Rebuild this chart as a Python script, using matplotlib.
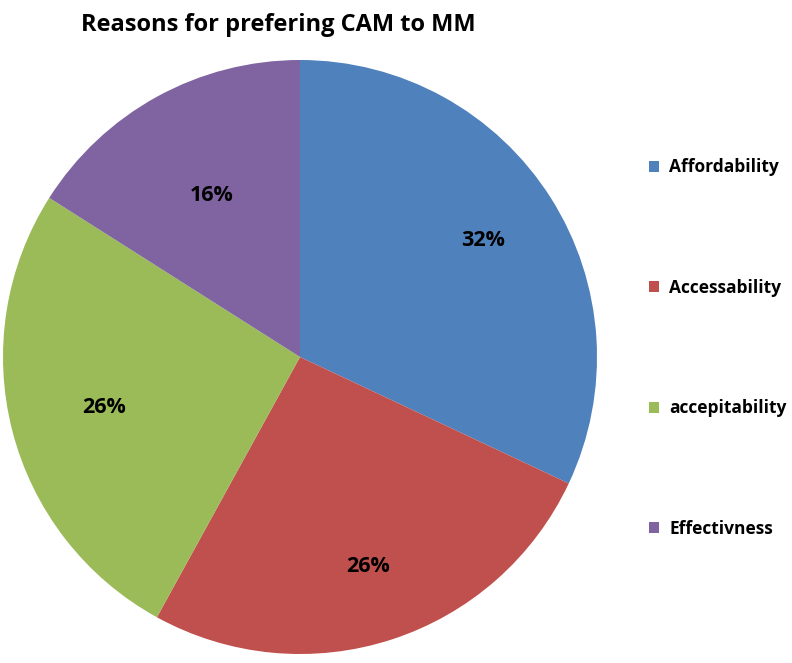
import numpy as np
import matplotlib.pyplot as plt

# data
labels = ["Affordability", "Accessability", "accepitability", "Effectivness"]
shares = [32, 26, 26, 16]
colors = ["#4F81BD", "#C0504D", "#9BBB59", "#8064A2"]
label_dist = [0.73, 0.74, 0.68, 0.62]   # radial position of the % labels

plt.rcParams['font.family'] = ['Open Sans', 'DejaVu Sans']

fig = plt.figure(figsize=(7.92, 6.63), dpi=100)
ax = fig.add_axes([3 / 792, 9 / 663, 594 / 792, 594 / 663])

wedges, texts, autotexts = ax.pie(
    shares, colors=colors, startangle=90, counterclock=False,
    autopct='%1.0f%%', pctdistance=0.7,
    textprops=dict(fontsize=15.5, fontweight='bold', color='black'),
    wedgeprops=dict(linewidth=0))

# move each % label to its own radius, like the original
for w, t, d in zip(wedges, autotexts, label_dist):
    ang = np.deg2rad((w.theta1 + w.theta2) / 2)
    t.set_position((d * np.cos(ang), d * np.sin(ang)))

ax.set_xlim(-1, 1)
ax.set_ylim(-1, 1)
ax.set_aspect('equal')

# title
fig.text(278 / 792, 1 - 25 / 663, "Reasons for prefering CAM to MM",
         ha='center', va='center', fontsize=17, fontweight='bold')

# legend
leg = fig.legend(wedges, labels, loc='center left',
                 bbox_to_anchor=(633 / 792, 1 - 348 / 663),
                 frameon=False, handlelength=0.6, handleheight=0.6,
                 handletextpad=0.6, labelspacing=5.9,
                 prop=dict(size=12.5, weight='bold'))

fig.savefig("out.png", dpi=100, facecolor='white')
